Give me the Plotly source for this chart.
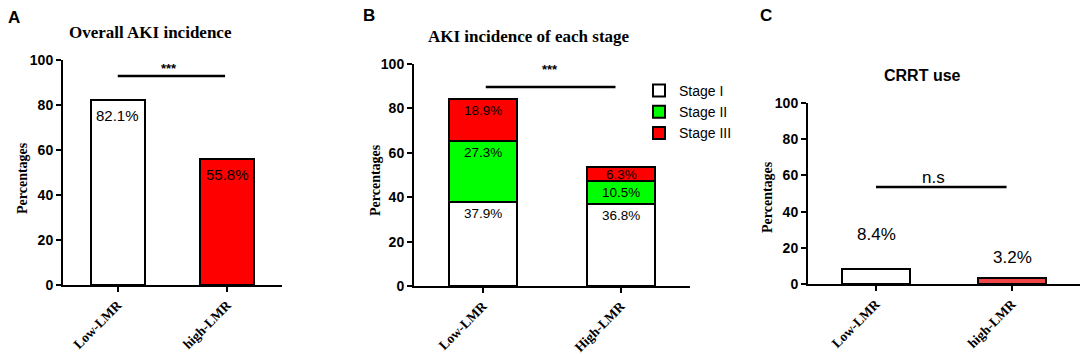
import numpy as np
import plotly.graph_objects as go

# ---------------- data ----------------
cats_a = ["Low-LMR", "high-LMR"]
vals_a = [82.1, 55.8]

cats_b = ["Low-LMR", "High-LMR"]
stage_names = ["Stage I", "Stage II", "Stage III"]
stage1 = [37.9, 36.8]
stage2 = [27.3, 10.5]
stage3 = [18.9, 6.3]

cats_c = ["Low-LMR", "high-LMR"]
vals_c = [8.4, 3.2]

y_ticks = [0, 20, 40, 60, 80, 100]

# ---------------- style ----------------
SERIF = "Liberation Serif, Times New Roman, serif"
SANS = "Liberation Sans, Arial, sans-serif"
RED = "#ff0000"
GREEN = "#00ff00"
RED_C = "#f04545"
LW = 2
W, H = 1084, 354

fig = go.Figure()

# Panel A
fig.add_trace(go.Bar(x=cats_a, y=vals_a, marker=dict(color=["white", RED], line=dict(color="black", width=LW)),
                     width=0.49, showlegend=False, xaxis="x", yaxis="y", hoverinfo="skip"))

# Panel B (stacked)
stages = [stage1, stage2, stage3]
stage_colors = ["white", GREEN, RED]
for name, vals, col in zip(stage_names, stages, stage_colors):
    fig.add_trace(go.Bar(x=cats_b, y=vals, name=name, marker=dict(color=col, line=dict(color="black", width=LW)),
                         width=0.49, xaxis="x2", yaxis="y2", hoverinfo="skip"))

# Panel C
fig.add_trace(go.Bar(x=cats_c, y=vals_c, marker=dict(color=["white", RED_C], line=dict(color="black", width=LW)),
                     width=0.5, showlegend=False, xaxis="x3", yaxis="y3", hoverinfo="skip"))

def px_x(p):
    return p / W

def px_y(p):
    return 1 - p / H

def xax(x0, x1, anchor):
    return dict(domain=[px_x(x0), px_x(x1)], anchor=anchor, type="category", range=[-0.5, 1.5], automargin=False,
                showline=True, linecolor="black", linewidth=LW, ticks="outside", ticklen=5,
                tickwidth=LW, tickcolor="black", tickangle=-45, showgrid=False, zeroline=False,
                tickfont=dict(family=SERIF, size=13.5, color="black", weight="bold"))

def yax(y_bottom, y_top, anchor):
    return dict(domain=[px_y(y_bottom), px_y(y_top)], anchor=anchor, range=[0, 100], tickvals=y_ticks,
                automargin=False, showline=True, linecolor="black", linewidth=LW, ticks="outside", ticklen=5,
                tickwidth=LW, tickcolor="black", showgrid=False, zeroline=False,
                tickfont=dict(family=SANS, size=14, color="black", weight="bold"))

fig.update_layout(
    template="none",
    width=W, height=H,
    margin=dict(l=0, r=0, t=0, b=0, autoexpand=False),
    paper_bgcolor="white", plot_bgcolor="white",
    barmode="stack", bargap=0.5,
    xaxis=xax(63, 282, "y"), yaxis=yax(285, 60, "x"),
    xaxis2=xax(414, 690, "y2"), yaxis2=yax(286, 64, "x2"),
    xaxis3=xax(808, 1080, "y3"), yaxis3=yax(284, 103, "x3"),
    legend=dict(x=px_x(639), y=px_y(75), xanchor="left", yanchor="top", traceorder="normal",
                font=dict(family=SANS, size=14, color="black"), bgcolor="rgba(0,0,0,0)",
                itemwidth=30, tracegroupgap=0),
)

ann = []
def txt(x, y, text, size, family=SANS, xref="paper", yref="paper", bold=False, **kw):
    d = dict(x=x, y=y, text=("<b>%s</b>" % text) if bold else text, xref=xref, yref=yref,
             showarrow=False, xanchor="center", yanchor="middle",
             font=dict(family=family, size=size, color="black"))
    d.update(kw)
    ann.append(d)

# panel letters
txt(px_x(14), px_y(18), "A", 17, bold=True)
txt(px_x(369), px_y(15), "B", 17, bold=True)
txt(px_x(766), px_y(15), "C", 17, bold=True)

# titles
txt(px_x(150), px_y(32), "Overall AKI incidence", 17, family=SERIF, bold=True)
txt(px_x(529), px_y(37), "AKI incidence of each stage", 17, family=SERIF, bold=True)
txt(px_x(922), px_y(75), "CRRT use", 16, bold=True)

# y titles
txt(px_x(22), px_y(178), "Percentages", 14, family=SERIF, bold=True, textangle=-90)
txt(px_x(375), px_y(180), "Percentages", 14, family=SERIF, bold=True, textangle=-90)
txt(px_x(767), px_y(197), "Percentages", 14, family=SERIF, bold=True, textangle=-90)

# bar labels A
for c, v in zip(cats_a, vals_a):
    txt(c, v, f"{v}%", 15, xref="x", yref="y", yanchor="top", yshift=-5)

# bar labels B (centre a little below each segment's top)
px_per_unit = (286 - 64) / 100.0
tops = np.cumsum(np.array(stages), axis=0)
for si, vals in enumerate(stages):
    for ci, c in enumerate(cats_b):
        off = min(11.5, vals[ci] * px_per_unit / 2.0)
        txt(c, float(tops[si][ci]), f"{vals[ci]}%", 13.5, xref="x2", yref="y2", yshift=-off)

# bar labels C (placed above the bars)
c_shift = [34, 21]
for c, v, s in zip(cats_c, vals_c, c_shift):
    txt(c, v, f"{v}%", 17, xref="x3", yref="y3", yshift=s)

# significance markers
shapes = [
    dict(type="line", xref="x", yref="y", x0=0, x1=0.98, y0=92.9, y1=92.9, line=dict(color="black", width=2.5)),
    dict(type="line", xref="x2", yref="y2", x0=0.02, x1=0.96, y0=89.6, y1=89.6, line=dict(color="black", width=2.5)),
    dict(type="line", xref="x3", yref="y3", x0=0, x1=0.96, y0=53.6, y1=53.6, line=dict(color="black", width=2.5)),
]
txt(px_x(169), px_y(68), "***", 13, bold=True)
txt(px_x(550), px_y(69), "***", 13, bold=True)
txt(px_x(933), px_y(177), "n.s", 17)

fig.update_layout(annotations=ann, shapes=shapes)
fig.write_html("out.html", config={"displayModeBar": False},
               post_script="document.body.style.margin='0';document.body.style.overflow='hidden';")
